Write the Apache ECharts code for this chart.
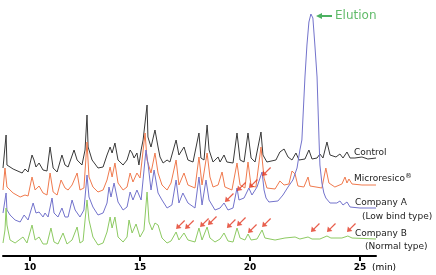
<!DOCTYPE html>
<html><head><meta charset="utf-8">
<script src="https://cdn.jsdelivr.net/npm/echarts@6/dist/echarts.min.js"></script>
<style>html,body{margin:0;padding:0;background:#fff}#c{width:436px;height:275px}</style>
</head><body><div id="c"></div>
<script>
// x: retention time (min), y: stacked detector signal (arbitrary units, offset traces)
const tickValues = [10, 15, 20, 25];
const seriesNames = ['Control', 'Microresico®', 'Company A', 'Company B'];

const control = [
[8.77,88],[8.91,121],[8.95,91],[9.23,87],[9.64,83],[9.77,87],[9.91,84],[10.09,101],[10.18,96],[10.27,89],
[10.41,93],[10.59,86],[10.77,85],[10.91,109],[11.05,88],[11.23,84],[11.45,101],[11.59,91],[11.73,89],[12.00,106],
[12.14,96],[12.36,91],[12.50,106],[12.59,141],[12.64,109],[12.82,96],[13.09,88],[13.32,89],[13.50,101],[13.64,109],
[13.73,103],[13.86,113],[14.00,96],[14.23,91],[14.41,96],[14.55,106],[14.64,103],[14.73,98],[14.86,103],[14.95,91],
[15.05,106],[15.14,116],[15.32,151],[15.36,119],[15.50,109],[15.68,126],[15.82,109],[15.91,99],[16.05,93],[16.23,96],
[16.36,94],[16.64,116],[16.77,101],[17.00,109],[17.18,96],[17.41,94],[17.68,123],[17.77,98],[17.91,96],[18.05,131],
[18.14,106],[18.32,94],[18.55,99],[18.64,94],[18.82,101],[18.95,94],[19.23,93],[19.41,123],[19.55,96],[19.73,94],
[19.91,123],[20.05,98],[20.23,94],[20.50,124],[20.59,101],[20.77,94],[21.18,96],[21.36,104],[21.55,107],[21.73,99],
[21.91,96],[22.09,103],[22.23,96],[22.50,97],[22.68,106],[22.82,97],[23.05,98],[23.18,102],[23.32,98],[23.50,114],
[23.64,101],[23.91,99],[24.09,102],[24.23,98],[24.41,104],[24.55,98],[24.77,98],[25.09,99],[25.36,97],[25.73,98]
];
const microresico = [
[8.77,66],[8.86,88],[8.95,69],[9.23,63],[9.55,59],[9.77,61],[9.91,60],[10.09,79],[10.23,66],[10.41,70],
[10.59,63],[10.77,61],[10.91,83],[11.05,64],[11.23,61],[11.41,76],[11.59,68],[11.73,66],[11.91,71],[12.14,83],
[12.27,66],[12.45,68],[12.59,114],[12.68,79],[12.86,69],[13.09,64],[13.32,66],[13.50,76],[13.64,89],[13.73,79],
[13.86,93],[14.00,73],[14.23,66],[14.41,69],[14.55,83],[14.68,74],[14.86,83],[15.00,78],[15.23,123],[15.32,96],
[15.50,83],[15.68,103],[15.82,83],[16.00,71],[16.23,66],[16.41,73],[16.64,96],[16.77,71],[17.00,83],[17.18,71],
[17.50,68],[17.68,99],[17.82,71],[18.05,103],[18.18,79],[18.32,69],[18.55,71],[18.73,84],[18.86,69],[19.18,66],
[19.41,93],[19.55,71],[19.77,68],[19.91,94],[20.05,70],[20.27,69],[20.50,109],[20.64,78],[20.77,68],[21.14,67],
[21.36,75],[21.55,71],[21.77,72],[21.91,85],[22.05,82],[22.18,70],[22.45,69],[22.64,79],[22.73,70],[23.27,68],
[23.45,88],[23.59,73],[23.86,69],[24.18,72],[24.32,79],[24.41,73],[24.50,77],[24.64,72],[25.09,71],[25.73,71]
];
const companyA = [
[8.77,43],[8.91,63],[8.95,46],[9.09,41],[9.32,36],[9.55,34],[9.73,41],[9.91,36],[10.14,53],[10.27,43],
[10.41,44],[10.59,39],[10.68,43],[10.82,39],[11.00,58],[11.09,43],[11.27,39],[11.45,48],[11.59,39],[11.73,39],
[11.91,56],[12.05,46],[12.27,39],[12.45,46],[12.59,81],[12.68,59],[12.86,49],[13.09,41],[13.32,43],[13.50,53],
[13.59,69],[13.68,59],[13.82,73],[14.00,54],[14.23,46],[14.41,49],[14.55,64],[14.68,56],[14.86,66],[15.05,56],
[15.27,106],[15.36,93],[15.50,66],[15.64,86],[15.82,63],[16.00,56],[16.23,48],[16.45,51],[16.64,76],[16.77,53],
[16.95,63],[17.18,53],[17.50,48],[17.68,79],[17.82,51],[18.00,76],[18.14,56],[18.41,46],[18.64,48],[18.82,53],
[19.00,46],[19.23,48],[19.41,68],[19.50,56],[19.73,58],[19.95,68],[20.09,61],[20.32,69],[20.55,84],[20.64,66],
[20.73,58],[20.86,54],[21.27,55],[21.50,61],[21.73,69],[21.95,76],[22.14,88],[22.27,106],[22.36,116],[22.50,179],
[22.59,211],[22.68,234],[22.77,242],[22.82,243],[22.86,238],[22.95,211],[23.05,179],[23.14,116],[23.18,91],[23.27,73],
[23.36,63],[23.45,58],[23.64,53],[23.95,53],[24.09,55],[24.23,51],[24.41,54],[24.55,49],[25.00,48],[25.73,48]
];
const companyB = [
[8.77,13],[8.86,26],[8.91,48],[8.95,31],[9.09,16],[9.32,13],[9.50,16],[9.68,19],[9.86,13],[10.09,31],
[10.23,16],[10.41,19],[10.59,12],[10.77,12],[10.95,28],[11.09,14],[11.27,12],[11.50,23],[11.68,12],[11.91,16],
[12.14,29],[12.27,13],[12.41,15],[12.59,56],[12.68,36],[12.86,19],[13.09,11],[13.32,13],[13.50,24],[13.64,39],
[13.73,28],[13.86,39],[14.00,19],[14.23,14],[14.41,19],[14.50,36],[14.64,23],[14.82,32],[15.00,19],[15.18,26],
[15.32,64],[15.41,34],[15.55,26],[15.68,33],[15.82,31],[16.00,18],[16.23,13],[16.41,15],[16.64,24],[16.77,16],
[17.00,23],[17.18,16],[17.50,14],[17.68,28],[17.82,16],[18.05,29],[18.18,18],[18.41,14],[18.64,17],[18.82,23],
[19.00,15],[19.23,14],[19.41,28],[19.55,18],[19.77,16],[19.91,22],[20.05,16],[20.32,17],[20.55,26],[20.68,18],
[21.14,16],[21.59,18],[22.05,19],[22.27,17],[22.64,19],[22.82,17],[23.18,17],[23.50,20],[23.68,18],[24.18,18],
[24.45,20],[24.64,18],[25.73,17]
];
// red arrows marking peaks (tip positions)
const arrowsA = [[18.86,54],[19.41,65],[19.95,68],[20.55,80]];
const arrowsB = [[16.64,27],[17.05,27],[17.73,29],[18.09,31],[18.95,28],[19.41,30],[19.91,23],[20.55,29],[22.77,24],[23.50,24],[24.41,24]];
const elutionPeak = [[22.82,243]];

const FONT = 'DejaVu Sans';
const ARROW = 'path://M0,10 L1,4 L3,6 L9,0 L10,1 L4,7 L6,9 Z';
const LEFT_ARROW = 'path://M0,3 L6,0 L6,2 L16,2 L16,4 L6,4 L6,6 Z';

function lineSeries(name, data, color, label) {
  return {
    name: name, type: 'line', data: data, symbol: 'none', smooth: false,
    lineStyle: { color: color, width: 1 }, silent: true,
    endLabel: Object.assign({ show: true, distance: 0, align: 'left', verticalAlign: 'middle',
      color: '#222', fontFamily: FONT, fontSize: 9 }, label)
  };
}

const chart = echarts.init(document.getElementById('c'), null, { renderer: 'canvas' });
chart.setOption({
  animation: false,
  backgroundColor: '#fff',
  grid: { left: 3, right: 60, top: 0, bottom: 19, containLabel: false },
  xAxis: {
    type: 'value', min: 8.77, max: 25.73,
    name: '(min)', nameLocation: 'end', nameGap: -4,
    nameTextStyle: { fontFamily: FONT, fontSize: 9, color: '#000', align: 'left', verticalAlign: 'top', padding: [7, 0, 0, 0] },
    axisLine: { show: true, lineStyle: { color: '#000', width: 2 } },
    axisTick: { show: true, customValues: tickValues, length: 5, lineStyle: { color: '#000', width: 2 } },
    axisLabel: { customValues: tickValues, margin: 7, fontFamily: FONT, fontSize: 9, fontWeight: 'bold', color: '#000' },
    splitLine: { show: false }
  },
  yAxis: { type: 'value', min: 0, max: 256, show: false },
  series: [
    lineSeries(seriesNames[0], control, '#3a3a3a', { formatter: seriesNames[0], offset: [-22, -5] }),
    lineSeries(seriesNames[1], microresico, '#f07a4e', {
      formatter: '{a|Microresico}{s|®}', offset: [-22, -6],
      rich: { a: { fontFamily: FONT, fontSize: 9, color: '#222' }, s: { fontFamily: FONT, fontSize: 7, color: '#222', padding: [0, 0, 5, 0] } }
    }),
    lineSeries(seriesNames[2], companyA, '#7373cc', {
      formatter: '{a|Company A}\n{b|(Low bind type)}', offset: [-21, 2],
      rich: { a: { fontFamily: FONT, fontSize: 9, lineHeight: 14, color: '#222' }, b: { fontFamily: FONT, fontSize: 9, lineHeight: 14, color: '#222', padding: [0, 0, 0, 7] } }
    }),
    lineSeries(seriesNames[3], companyB, '#8dca62', {
      formatter: '{a|Company B}\n{b|(Normal type)}', offset: [-21, 1],
      rich: { a: { fontFamily: FONT, fontSize: 9, lineHeight: 13, color: '#222' }, b: { fontFamily: FONT, fontSize: 9, lineHeight: 13, color: '#222', padding: [0, 0, 0, 10] } }
    }),
    { type: 'scatter', data: arrowsA.concat(arrowsB), symbol: ARROW, symbolSize: 9, symbolOffset: [4.5, -4.5],
      itemStyle: { color: '#e2361f' }, silent: true, z: 5 },
    { type: 'scatter', data: elutionPeak, symbol: LEFT_ARROW, symbolSize: [16, 6], symbolOffset: [12, 3],
      itemStyle: { color: '#1f9e3a' }, silent: true, z: 5,
      label: { show: true, formatter: 'Elution', position: 'right', distance: 3, color: '#3aaa45', fontFamily: FONT, fontSize: 12 } }
  ]
});
</script>
</body></html>
